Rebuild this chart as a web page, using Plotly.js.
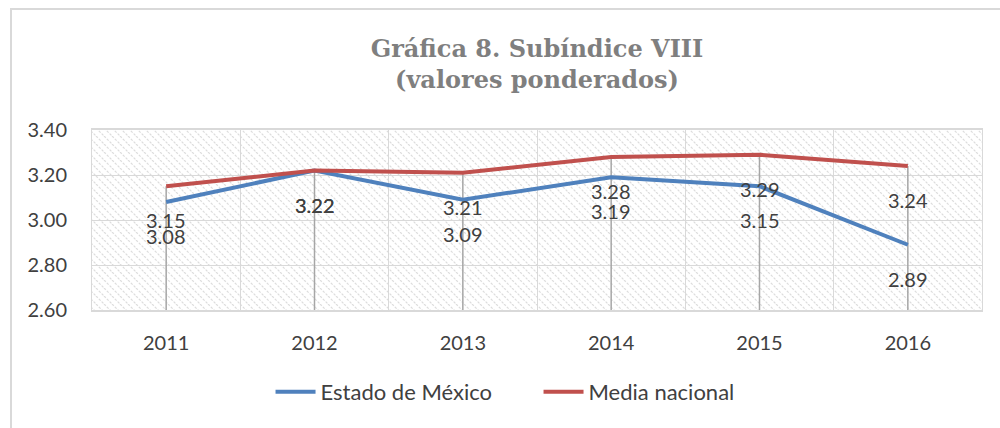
<!DOCTYPE html>
<html>
<head>
<meta charset="utf-8">
<script src="https://cdn.plot.ly/plotly-3.0.1.min.js"></script>
<style>
  html, body { margin: 0; padding: 0; background: #fff; }
  #wrap { position: relative; width: 1000px; height: 428px; overflow: hidden; }
  #frame { position: absolute; left: 10px; top: 8px; width: 1000px; height: 440px;
           border-left: 2px solid #d9d9d9; border-top: 2px solid #d9d9d9; box-sizing: border-box; }
  #chart { position: absolute; left: 0; top: 0; width: 1000px; height: 428px; }
</style>
</head>
<body>
<div id="wrap">
  <div id="frame"></div>
  <div id="chart"></div>
</div>
<script>
const years = ['2011', '2012', '2013', '2014', '2015', '2016'];
const estadoMexico = [3.08, 3.22, 3.09, 3.19, 3.15, 2.89];
const mediaNacional = [3.15, 3.22, 3.21, 3.28, 3.29, 3.24];
const yTicks = [2.60, 2.80, 3.00, 3.20, 3.40];
const seriesNames = ['Estado de México', 'Media nacional'];

const textColor = '#404040';
const font = 'Lato, "Liberation Sans", sans-serif';

// drop lines from the highest value down to the axis floor
const dropX = [], dropY = [];
years.forEach((yr, i) => {
  dropX.push(yr, yr, null);
  dropY.push(yTicks[0], Math.max(estadoMexico[i], mediaNacional[i]), null);
});

const traces = [
  { x: dropX, y: dropY, mode: 'lines', line: { color: '#a6a6a6', width: 1.5 },
    hoverinfo: 'skip', showlegend: false },
  { x: years, y: estadoMexico, name: seriesNames[0], mode: 'lines',
    line: { color: '#4F81BD', width: 4 } },
  { x: years, y: mediaNacional, name: seriesNames[1], mode: 'lines',
    line: { color: '#C0504D', width: 4 } }
];

const annotations = [];
[estadoMexico, mediaNacional].forEach(series => {
  series.forEach((v, i) => {
    annotations.push({ x: i, y: v, xref: 'x', yref: 'y', text: v.toFixed(2),
      showarrow: false, yshift: -34, font: { family: font, size: 20, color: textColor } });
  });
});

const layout = {
  width: 1000, height: 428,
  margin: { l: 92, r: 18, t: 130, b: 118 },
  paper_bgcolor: 'rgba(0,0,0,0)',
  plot_bgcolor: '#ffffff',
  title: {
    text: 'Gráfica 8. Subíndice VIII<br>(valores ponderados)',
    font: { family: '"DejaVu Serif", serif', size: 24, color: '#7f7f7f', weight: 'bold' },
    x: 0.5, xanchor: 'center', xref: 'paper', y: 1 - 57 / 428, yref: 'container', yanchor: 'middle'
  },
  xaxis: {
    type: 'category', tickson: 'boundaries', ticks: '', showgrid: true, gridcolor: '#d9d9d9', gridwidth: 1,
    showline: true, linecolor: '#d9d9d9', linewidth: 2, mirror: true,
    tickfont: { family: font, size: 20, color: textColor }, ticklabelstandoff: 14,
    range: [-0.5, years.length - 0.5], fixedrange: true
  },
  yaxis: {
    range: [yTicks[0], yTicks[yTicks.length - 1]], tickvals: yTicks,
    ticktext: yTicks.map(v => v.toFixed(2)), ticks: '',
    showgrid: true, gridcolor: '#d9d9d9', gridwidth: 1, zeroline: false,
    showline: true, linecolor: '#d9d9d9', linewidth: 1, mirror: true,
    tickfont: { family: font, size: 20, color: textColor }, ticklabelstandoff: 20, fixedrange: true
  },
  legend: {
    orientation: 'h', x: 0.2006, xanchor: 'left', y: -0.455, yanchor: 'middle',
    font: { family: font, size: 22, color: textColor }, itemwidth: 40,
    entrywidth: 213, entrywidthmode: 'pixels'
  },
  annotations: annotations,
  showlegend: true
};

Plotly.newPlot('chart', traces, layout, { staticPlot: true, displayModeBar: false }).then(gd => {
  // hatched plot background
  const svg = gd.querySelector('svg.main-svg');
  const ns = 'http://www.w3.org/2000/svg';
  let defs = svg.querySelector('defs');
  if (!defs) { defs = document.createElementNS(ns, 'defs'); svg.insertBefore(defs, svg.firstChild); }
  const pat = document.createElementNS(ns, 'pattern');
  pat.setAttribute('id', 'hatchbg');
  pat.setAttribute('patternUnits', 'userSpaceOnUse');
  pat.setAttribute('width', '8'); pat.setAttribute('height', '8');
  const bgr = document.createElementNS(ns, 'rect');
  bgr.setAttribute('width', '8'); bgr.setAttribute('height', '8'); bgr.setAttribute('fill', '#ffffff');
  pat.appendChild(bgr);
  [['0', '8'], ['-8', '0'], ['8', '16']].forEach(c => {
    const l = document.createElementNS(ns, 'line');
    l.setAttribute('x1', c[0]); l.setAttribute('y1', '0'); l.setAttribute('x2', c[1]); l.setAttribute('y2', '8');
    l.setAttribute('stroke', '#dcdcdc'); l.setAttribute('stroke-width', '1.2');
    l.setAttribute('stroke-dasharray', '2.5,1.5');
    pat.appendChild(l);
  });
  defs.appendChild(pat);
  const bg = svg.querySelector('.bglayer rect.bg') || svg.querySelector('rect.bg');
  if (bg) bg.style.fill = 'url(#hatchbg)';
});
</script>
</body>
</html>
